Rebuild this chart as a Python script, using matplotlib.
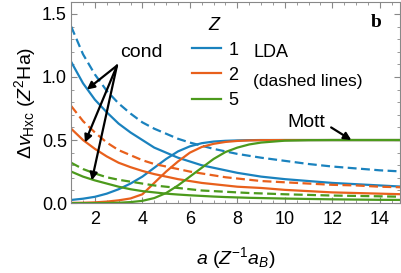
import numpy as np
import matplotlib
matplotlib.use("Agg")
from matplotlib import pyplot as plt

plt.rcParams['font.family'] = ['Liberation Sans', 'DejaVu Sans']
plt.rcParams['mathtext.fontset'] = 'custom'
plt.rcParams['mathtext.rm'] = 'Liberation Sans'
plt.rcParams['mathtext.it'] = 'Liberation Sans:italic'
plt.rcParams['mathtext.bf'] = 'Liberation Sans:bold'

a = [1, 1.5, 2, 2.5, 3, 3.5, 4, 4.5, 5, 5.5, 6, 6.5, 7, 7.5, 8, 8.5, 9, 10, 11, 12, 13, 14, 15]

# conductance-based xc potential step (solid)
cond_z1 = [1.12, 0.95, 0.82, 0.72, 0.63, 0.56, 0.50, 0.44, 0.40, 0.36, 0.33, 0.30, 0.28, 0.26,
           0.24, 0.225, 0.21, 0.19, 0.175, 0.16, 0.15, 0.14, 0.13]
cond_z2 = [0.59, 0.50, 0.43, 0.37, 0.32, 0.285, 0.255, 0.23, 0.21, 0.19, 0.175, 0.16, 0.15, 0.14,
           0.13, 0.125, 0.12, 0.105, 0.095, 0.085, 0.08, 0.075, 0.07]
cond_z5 = [0.25, 0.21, 0.18, 0.155, 0.13, 0.11, 0.095, 0.085, 0.075, 0.068, 0.062, 0.057, 0.052, 0.048,
           0.045, 0.042, 0.04, 0.036, 0.033, 0.03, 0.028, 0.026, 0.025]

# LDA (dashed)
lda_z1 = [1.40, 1.18, 1.02, 0.89, 0.79, 0.71, 0.64, 0.59, 0.55, 0.51, 0.48, 0.455, 0.43, 0.41,
          0.39, 0.375, 0.36, 0.335, 0.31, 0.29, 0.275, 0.26, 0.25]
lda_z2 = [0.77, 0.65, 0.56, 0.48, 0.42, 0.38, 0.34, 0.31, 0.29, 0.27, 0.25, 0.235, 0.22, 0.205,
          0.195, 0.185, 0.175, 0.165, 0.155, 0.145, 0.14, 0.13, 0.125]
lda_z5 = [0.32, 0.27, 0.235, 0.205, 0.185, 0.17, 0.155, 0.14, 0.13, 0.12, 0.11, 0.10, 0.095, 0.09,
          0.085, 0.08, 0.077, 0.07, 0.065, 0.06, 0.057, 0.054, 0.05]

# Mott (rising) curves
mott_z1 = [0.025, 0.035, 0.05, 0.075, 0.11, 0.155, 0.21, 0.28, 0.35, 0.41, 0.45, 0.475, 0.488, 0.494,
           0.497, 0.499, 0.5, 0.5, 0.5, 0.5, 0.5, 0.5, 0.5]
mott_z2 = [0.002, 0.003, 0.006, 0.012, 0.022, 0.037, 0.07, 0.16, 0.25, 0.33, 0.40, 0.445, 0.47, 0.485,
           0.493, 0.497, 0.499, 0.5, 0.5, 0.5, 0.5, 0.5, 0.5]
mott_z5 = [0.0, 0.0, 0.0, 0.001, 0.003, 0.008, 0.018, 0.04, 0.08, 0.14, 0.21, 0.28, 0.35, 0.405,
           0.44, 0.465, 0.48, 0.495, 0.499, 0.5, 0.5, 0.5, 0.5]

zs = ['1', '2', '5']
colors = ['#1a82be', '#e8601c', '#4c9a1c']

fig = plt.figure(figsize=(4.02, 2.73), dpi=100)
ax = fig.add_axes([0.177, 0.256, 0.818, 0.737])

lw = 1.6
handles = []
for z, c, cond, lda, mott in zip(zs, colors, [cond_z1, cond_z2, cond_z5],
                                  [lda_z1, lda_z2, lda_z5], [mott_z1, mott_z2, mott_z5]):
    h, = ax.plot(a, cond, color=c, lw=lw, label=z)
    ax.plot(a, lda, color=c, lw=lw, ls=(0, (4, 2)))
    ax.plot(a, mott, color=c, lw=lw)
    handles.append(h)

ax.set_xlim(1, 14.85)
ax.set_ylim(0, 1.595)
ax.set_xticks([2, 4, 6, 8, 10, 12, 14])
ax.set_yticks([0, 0.5, 1.0, 1.5])
ax.set_yticklabels(['0.0', '0.5', '1.0', '1.5'])
ax.set_xticks(np.arange(1, 15, 0.5), minor=True)
ax.set_yticks(np.arange(0, 1.6, 0.1), minor=True)
ax.tick_params(which='both', direction='in', top=True, right=True, labelsize=13, color='#888888')
ax.tick_params(which='major', length=4)
ax.tick_params(which='minor', length=2)
ax.tick_params(axis='x', pad=6)
ax.tick_params(axis='y', pad=3)
for s in ax.spines.values():
    s.set_color('#888888')

ax.set_xlabel(r'$a\ (Z^{-1}a_B)$', fontsize=14, labelpad=12)
ax.set_ylabel(r'$\Delta v_{\rm Hxc}\ (Z^2\mathrm{Ha})$', fontsize=14, labelpad=3)

leg = ax.legend(handles=handles, title=r'$Z$', loc='upper left', bbox_to_anchor=(0.33, 0.99),
                frameon=False, fontsize=13, title_fontsize=13, handlelength=1.6,
                handletextpad=0.4, labelspacing=0.45, borderpad=0.2)

ax.text(0.553, 0.75, 'LDA', transform=ax.transAxes, fontsize=13, va='center')
ax.text(0.553, 0.605, '(dashed lines)', transform=ax.transAxes, fontsize=12.5, va='center')
ax.text(0.945, 0.90, 'b', transform=ax.transAxes, fontsize=14, fontweight='bold',
        family='Liberation Serif', ha='right', va='center')

arrow = dict(arrowstyle='-|>', color='black', lw=1.6, mutation_scale=11, shrinkA=0, shrinkB=0)
ax.text(3.96, 1.19, 'cond', fontsize=14, ha='center', va='center')
for tip in [(1.66, 0.90), (1.58, 0.48), (1.87, 0.18)]:
    ax.annotate('', xy=tip, xytext=(2.93, 1.09), arrowprops=arrow)

ax.text(10.9, 0.64, 'Mott', fontsize=14, ha='center', va='center')
ax.annotate('', xy=(12.8, 0.5), xytext=(11.95, 0.60), arrowprops=arrow)

fig.savefig('out.png', dpi=100)
